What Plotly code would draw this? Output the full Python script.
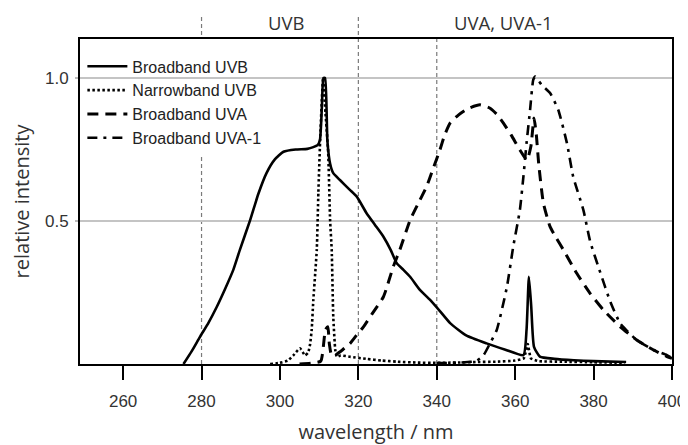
import plotly.graph_objects as go

# ---------------- data ----------------
wl_bb_uvb = [275.4, 277.5, 279.6, 281.8, 283.9, 286.0, 288.1, 289.8, 292.4, 294.5, 296.6, 298.7, 300.9,
             304.0, 307.0, 308.5, 309.6, 310.2, 310.7, 311.1, 311.5, 312.1, 312.8, 313.6, 315.3, 317.9,
             319.6, 322.1, 324.2, 326.4, 328.2, 329.8, 331.5, 333.2, 335.7, 338.3, 340.8, 343.4, 347.5,
             352.7, 357.5, 362.1, 362.9, 363.5, 364.1, 364.8, 366.3, 370.0, 375.0, 380.0, 388.3]
int_bb_uvb = [0.0, 0.045, 0.095, 0.145, 0.2, 0.262, 0.329, 0.4, 0.503, 0.595, 0.668, 0.715, 0.742,
              0.75, 0.752, 0.758, 0.765, 0.783, 0.9, 1.0, 1.0, 0.78, 0.70, 0.667, 0.643, 0.608,
              0.585, 0.527, 0.487, 0.445, 0.40, 0.352, 0.329, 0.305, 0.259, 0.224, 0.185, 0.143, 0.1,
              0.072, 0.05, 0.031, 0.12, 0.305, 0.2, 0.06, 0.026, 0.018, 0.013, 0.01, 0.007]

wl_nb_uvb = [297.5, 300.0, 302.0, 303.4, 305.1, 306.4, 307.2, 307.7, 308.1, 308.5, 309.4, 309.8, 310.3,
             311.0, 311.6, 312.3, 312.8, 313.2, 313.6, 314.1, 314.5, 315.5, 318.0, 322.0, 326.0, 330.0,
             335.0, 340.0, 345.0, 350.0, 355.0, 360.0, 362.2, 363.2, 364.0, 366.0, 372.0, 380.0, 388.0]
int_nb_uvb = [0.0, 0.004, 0.012, 0.03, 0.055, 0.03, 0.04, 0.07, 0.12, 0.22, 0.4, 0.6, 0.8,
              1.0, 0.88, 0.74, 0.5, 0.4, 0.165, 0.05, 0.025, 0.03, 0.025, 0.018, 0.012, 0.008,
              0.005, 0.004, 0.005, 0.007, 0.008, 0.012, 0.02, 0.07, 0.02, 0.01, 0.008, 0.006, 0.004]

wl_bb_uva = [305.0, 308.0, 310.4, 311.6, 312.2, 312.6, 313.2, 314.5, 316.0, 317.9, 319.5, 321.3, 323.5,
             326.4, 328.9, 330.6, 333.2, 335.7, 337.4, 339.0, 340.8, 342.0, 343.4, 345.5, 348.0, 351.0,
             353.6, 355.5, 357.0, 359.0, 361.2, 363.0, 364.0, 364.8, 365.4, 366.0, 367.2, 368.9, 370.5,
             372.3, 375.7, 379.1, 382.5, 386.8, 391.0, 395.3, 398.7, 400.0]
int_bb_uva = [0.0, 0.003, 0.01, 0.12, 0.13, 0.07, 0.03, 0.035, 0.05, 0.072, 0.1, 0.13, 0.175,
              0.235, 0.34, 0.40, 0.503, 0.573, 0.62, 0.68, 0.748, 0.8, 0.842, 0.87, 0.893, 0.906,
              0.894, 0.87, 0.842, 0.80, 0.748, 0.713, 0.76, 0.86, 0.8, 0.7, 0.562, 0.48, 0.44,
              0.399, 0.317, 0.247, 0.189, 0.13, 0.084, 0.049, 0.026, 0.02]

wl_bb_uva1 = [340.0, 346.0, 350.0, 351.9, 353.5, 355.3, 357.9, 359.5, 361.2, 362.1, 362.9, 363.8, 364.6,
              365.1, 366.8, 368.9, 371.0, 373.2, 374.8, 377.4, 379.1, 381.7, 384.2, 386.8, 391.0, 395.3,
              398.7, 400.0]
int_bb_uva1 = [0.003, 0.005, 0.01, 0.03, 0.07, 0.119, 0.27, 0.41, 0.538, 0.655, 0.772, 0.888, 0.993,
               1.005, 0.975, 0.947, 0.888, 0.772, 0.655, 0.538, 0.43, 0.32, 0.22, 0.142, 0.084, 0.049,
               0.031, 0.02]

x_ticks = [260, 280, 300, 320, 340, 360, 380, 400]
y_ticks = [0.5, 1.0]
y_tick_labels = ["0.5", "1.0"]
band_edges = [280, 320, 340]
band_labels = ["UVB", "UVA, UVA-1"]
band_label_pos = [301.6, 357.0]

TICK_FONT = "Liberation Sans, Arial, sans-serif"
TEXT_FONT = "Open Sans, sans-serif"

fig = go.Figure()
fig.add_trace(go.Scatter(x=wl_bb_uvb, y=int_bb_uvb, mode="lines", name="Broadband UVB",
                         line=dict(color="black", width=2.6, shape="spline", smoothing=0.5)))
fig.add_trace(go.Scatter(x=wl_nb_uvb, y=int_nb_uvb, mode="lines", name="Narrowband UVB",
                         line=dict(color="black", width=2.6, dash="2.5px,2.5px", shape="spline", smoothing=0.4)))
fig.add_trace(go.Scatter(x=wl_bb_uva, y=int_bb_uva, mode="lines", name="Broadband UVA",
                         line=dict(color="black", width=3, dash="11px,7px", shape="spline", smoothing=0.5)))
fig.add_trace(go.Scatter(x=wl_bb_uva1, y=int_bb_uva1, mode="lines", name="Broadband UVA-1",
                         line=dict(color="black", width=2.6, dash="10px,6px,3px,6px", shape="spline", smoothing=0.5)))

shapes = []
# vertical band boundaries (280 and 320 extend above the frame)
tops = {280: 1.07, 320: 1.075, 340: 1.0}
for edge in band_edges:
    shapes.append(dict(type="line", xref="x", yref="paper", x0=edge, x1=edge, y0=0, y1=tops[edge],
                       line=dict(color="#7a7a7a", width=1.2, dash="4px,3px"), layer="between"))
# white area behind the legend
shapes.append(dict(type="rect", xref="paper", yref="paper", x0=0, x1=0.36, y0=0.645, y1=1,
                   fillcolor="white", line=dict(width=0), layer="between"))

annotations = []
for lab, pos in zip(band_labels, band_label_pos):
    annotations.append(dict(text=lab, x=pos, xref="x", y=1.05, yref="paper", showarrow=False,
                            xanchor="center", yanchor="middle",
                            font=dict(family=TEXT_FONT, size=18.5, color="#333")))

# the page body has an 8px margin, so the figure is 8px smaller and the margins are reduced by 8px
fig.update_layout(
    width=680, height=437,
    margin=dict(l=72, r=16, t=31, b=81, autoexpand=False),
    paper_bgcolor="white", plot_bgcolor="white",
    shapes=shapes, annotations=annotations,
    showlegend=True,
    legend=dict(x=0.004, y=0.968, xanchor="left", yanchor="top", bgcolor="rgba(0,0,0,0)",
                font=dict(family=TICK_FONT, size=16, color="#222"), tracegroupgap=0,
                itemwidth=40),
)
fig.update_xaxes(range=[249, 400], tickmode="array", tickvals=x_ticks, automargin=False,
                 ticks="outside", ticklen=14, tickwidth=2, tickcolor="black",
                 showline=True, linewidth=2, linecolor="black", mirror=True,
                 showgrid=False, zeroline=False, ticklabelstandoff=7,
                 tickfont=dict(family=TICK_FONT, size=17, color="#333"),
                 title=dict(text="wavelength / nm", font=dict(family=TEXT_FONT, size=20, color="#333"),
                            standoff=18))
fig.update_yaxes(range=[0, 1.136], tickmode="array", tickvals=y_ticks, ticktext=y_tick_labels,
                 automargin=False,
                 ticks="outside", ticklen=3, tickwidth=1.5, tickcolor="#bbbbbb",
                 showline=True, linewidth=2, linecolor="black", mirror=True,
                 showgrid=True, gridcolor="#c4c4c4", gridwidth=2, zeroline=False,
                 ticklabelstandoff=3,
                 tickfont=dict(family=TICK_FONT, size=17, color="#333"),
                 title=dict(text="relative intensity", font=dict(family=TEXT_FONT, size=20, color="#333"),
                            standoff=24))

fig.write_html("out.html")
